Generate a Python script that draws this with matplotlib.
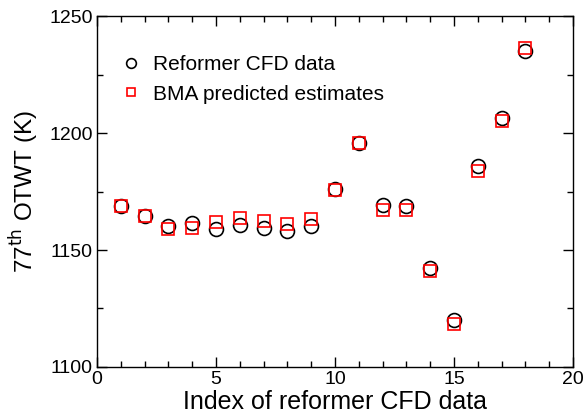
import matplotlib
matplotlib.use("Agg")
import matplotlib.pyplot as plt
from matplotlib.ticker import MultipleLocator

plt.rcParams['font.family'] = ['Liberation Sans', 'DejaVu Sans']

# data
index = list(range(1, 19))
cfd = [1168.8, 1164.7, 1160.3, 1161.4, 1159.1, 1160.5, 1159.5, 1158.1, 1160.3,
       1176.2, 1195.6, 1169.2, 1168.9, 1142.4, 1119.9, 1185.9, 1206.4, 1235.2]
bma = [1168.8, 1164.7, 1159.1, 1159.3, 1161.8, 1163.5, 1162.3, 1161.2, 1163.1,
       1175.5, 1195.6, 1167.0, 1167.0, 1141.2, 1118.4, 1183.8, 1205.1, 1236.2]

fig = plt.figure(figsize=(5.86, 4.16), dpi=100)
ax = fig.add_axes([0.1655, 0.1178, 0.8125, 0.8437])

ax.plot(index, cfd, 'o', mfc='none', mec='black', ms=10, mew=1.2,
        label='Reformer CFD data')
ax.plot(index, bma, 's', mfc='none', mec='red', ms=8.5, mew=1.2,
        label='BMA predicted estimates')

ax.set_xlim(0, 20)
ax.set_ylim(1100, 1250)
ax.xaxis.set_major_locator(MultipleLocator(5))
ax.xaxis.set_minor_locator(MultipleLocator(1))
ax.yaxis.set_major_locator(MultipleLocator(50))
ax.yaxis.set_minor_locator(MultipleLocator(25))
ax.tick_params(which='both', direction='in', top=True, right=True,
               labelsize=14, width=1.0)
ax.tick_params(which='major', length=7, pad=3)
ax.tick_params(which='minor', length=4)
for s in ax.spines.values():
    s.set_linewidth(1.0)

ax.set_xlabel('Index of reformer CFD data', fontsize=18, labelpad=1.5)
ax.set_ylabel(r'77$^{\mathrm{th}}$ OTWT (K)', fontsize=17.5, labelpad=6)

ax.legend(loc='upper left', frameon=False, fontsize=15, markerscale=0.7,
          bbox_to_anchor=(0.006, 0.942), handlelength=1.2,
          handletextpad=0.45, labelspacing=0.5)

fig.savefig('out.png', dpi=100)
